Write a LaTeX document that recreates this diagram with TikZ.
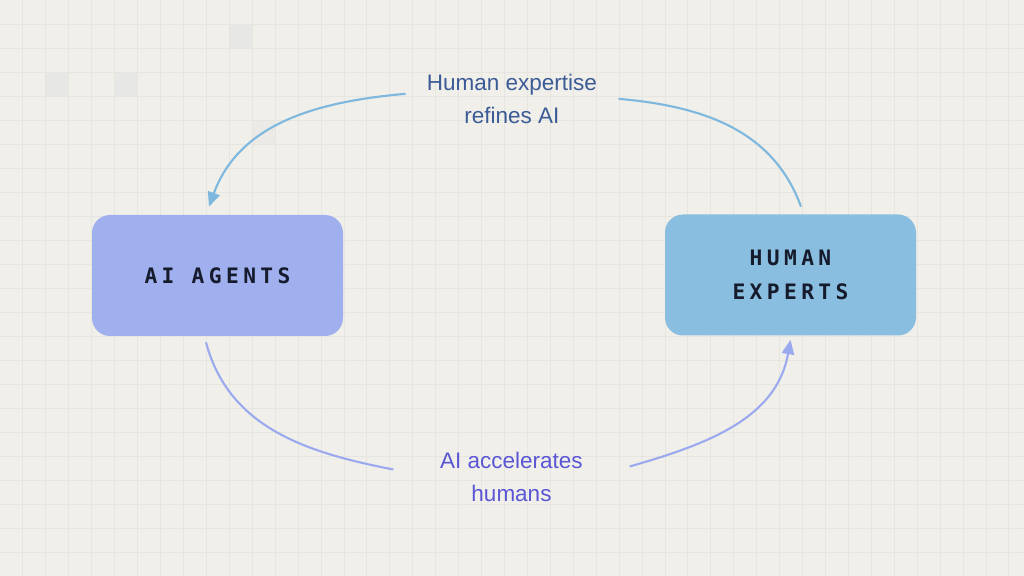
\documentclass[tikz,border=0pt]{standalone}
\usepackage{fontspec}
\setmainfont{Liberation Sans}
\newfontfamily\boxfont{DejaVu Sans Mono}[LetterSpace=20.6]
\usepackage{xcolor}
\usetikzlibrary{arrows.meta}
\definecolor{paper}{HTML}{F0EFEA}
\definecolor{gridgrey}{HTML}{E6E5E0}
\definecolor{cellgrey}{HTML}{E7E7E5}
\definecolor{cellfaint}{HTML}{EBEAE6}
\definecolor{agentblue}{HTML}{A0B0EE}
\definecolor{humanblue}{HTML}{8ABEE0}
\definecolor{inkdark}{HTML}{151B2C}
\definecolor{steeltext}{HTML}{3B5B96}
\definecolor{indigotext}{HTML}{5A56D4}
\definecolor{toparccol}{HTML}{7EB8DE}
\definecolor{botarccol}{HTML}{9BAAEE}

\begin{document}
\begin{tikzpicture}[
  every node/.style={font=\fontsize{12.8pt}{18.4pt}\selectfont},
  agentbox/.style={rounded corners=0.36cm,minimum width=5.02cm,minimum height=2.42cm,
                   inner sep=0pt,align=center,text=inkdark,
                   font=\boxfont\bfseries\fontsize{12.1pt}{19.3pt}\selectfont},
  looplab/.style={align=center,inner ysep=0pt},
  gridline/.style={draw=gridgrey,line width=0.5pt},
  arc/.style={line width=1.2pt},
  tip/.style={-{Triangle[length=8.2pt,width=7pt]}}
]
\useasboundingbox (0,0) rectangle (20.48,-11.52);
\fill[paper] (0,0) rectangle (20.48,-11.52);
% shaded cells, then the grid
\foreach \c/\r/\s in {10/1/cellgrey, 2/3/cellgrey, 5/3/cellgrey, 11/5/cellfaint}{
  \fill[\s] (\c*0.4586,-\r*0.48) rectangle ++(0.4586,-0.48);
}
\foreach \i in {1,...,44}{
  \draw[gridline] (\i*0.4586,0) -- (\i*0.4586,-11.52);
}
\foreach \j in {1,...,23}{
  \draw[gridline] (0,-\j*0.48) -- (20.48,-\j*0.48);
}

\node[agentbox,fill=agentblue] (agents) at (4.35,-5.51) {AI AGENTS};
\node[agentbox,fill=humanblue] (human)  at (15.81,-5.50) {HUMAN\\EXPERTS};

\node[looplab,text=steeltext,inner xsep=0.42cm]  (toplab) at (10.24,-1.976) {Human expertise\\refines AI};
\node[looplab,text=indigotext,inner xsep=0.93cm] (botlab) at (10.23,-9.54) {AI accelerates\\humans};

\draw[arc,draw=toparccol] ([shift={(0.21,0.15)}]human.north) to[out=110,in=-5] (toplab.east);
\draw[arc,tip,draw=toparccol] ([yshift=0.1cm]toplab.west)
  to[out=185,in=70] ([shift={(-0.17,0.16)}]agents.north);
\draw[arc,draw=botarccol] ([shift={(-0.23,-0.12)}]agents.south) to[out=-75,in=169] ([yshift=0.15cm]botlab.west);
\draw[arc,tip,draw=botarccol] ([yshift=0.21cm]botlab.east)
  to[out=16,in=-100] ([yshift=-0.08cm]human.south);
\end{tikzpicture}
\end{document}
